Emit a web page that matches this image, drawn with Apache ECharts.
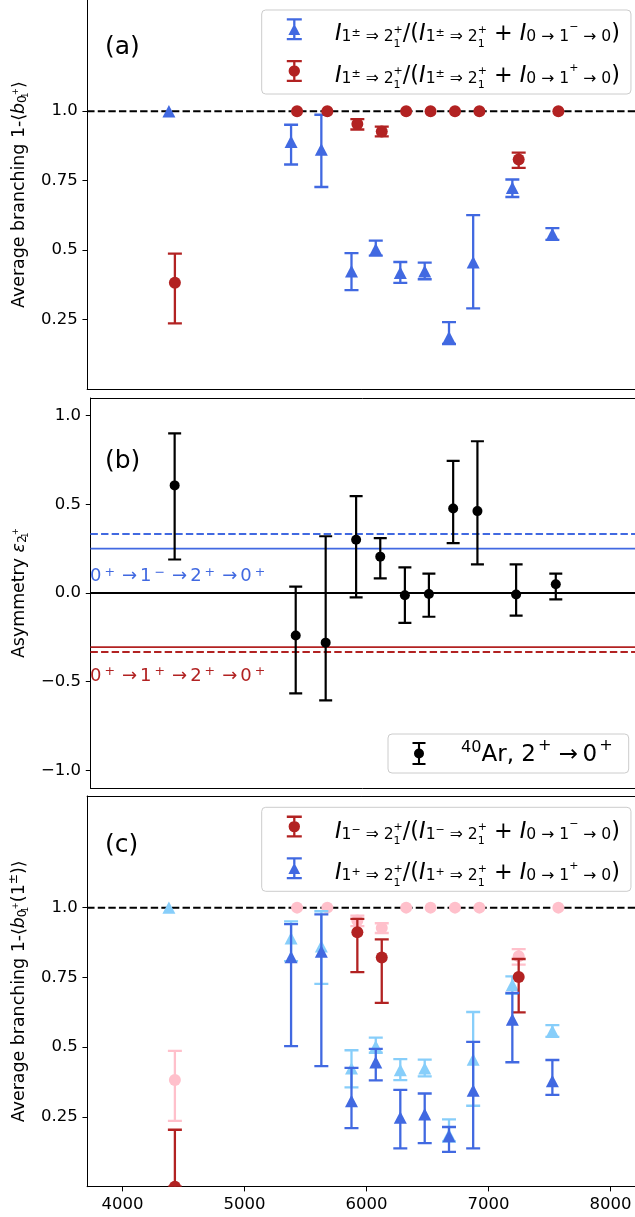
<!DOCTYPE html>
<html>
<head>
<meta charset="utf-8">
<script src="https://cdn.jsdelivr.net/npm/echarts@6/dist/echarts.min.js"></script>
<style>
  html, body { margin: 0; padding: 0; background: #fff; }
  #chart { width: 635px; height: 1217px; }
</style>
</head>
<body>
<div id="chart"></div>
<script>
// ---- data (energies in keV) ----
const energyTri = [4381, 5382, 5630, 5877, 6076, 6277, 6477, 6676, 6874, 7195, 7523];
const energyDot = [4430, 5431, 5679, 5925, 6125, 6325, 6525, 6725, 6925, 7247, 7572];
const energyAr  = [4405, 5403, 5650, 5901, 6100, 6303, 6501, 6701, 6901, 7220, 7547];

// (a) average branching, both parities
const aTriVal = [1.0, 0.89, 0.862, 0.424, 0.503, 0.418, 0.424, 0.186, 0.456, 0.724, 0.558];
const aTriLo  = [null, 0.808, 0.727, 0.356, 0.48, 0.382, 0.395, 0.162, 0.29, 0.691, 0.537];
const aTriHi  = [null, 0.951, 0.987, 0.489, 0.534, 0.457, 0.455, 0.241, 0.626, 0.754, 0.579];
const aDotVal = [0.382, 1.0, 1.0, 0.954, 0.927, 1.0, 1.0, 1.0, 1.0, 0.826, 1.0];
const aDotLo  = [0.236, null, null, 0.934, 0.909, null, null, null, null, 0.796, null];
const aDotHi  = [0.487, null, null, 0.971, 0.944, null, null, null, null, 0.851, null];

// (b) asymmetry of 2+ -> 0+
const arVal = [0.607, -0.24, -0.28, 0.30, 0.205, -0.013, -0.006, 0.477, 0.462, -0.008, 0.049];
const arLo  = [0.189, -0.566, -0.606, -0.025, 0.083, -0.168, -0.134, 0.281, 0.162, -0.128, -0.036];
const arHi  = [0.900, 0.036, 0.320, 0.547, 0.309, 0.145, 0.109, 0.745, 0.856, 0.162, 0.109];
const asymE1 = [0.25, 0.333];     // 0+ -> 1- -> 2+ -> 0+ (solid, dashed)
const asymM1 = [-0.305, -0.333];  // 0+ -> 1+ -> 2+ -> 0+ (solid, dashed)
const asymZero = 0;

// (c) parity separated
const cDotVal = [0.0, null, null, 0.912, 0.821, null, null, null, null, 0.751, null];
const cDotLo  = [0.0, null, null, 0.769, 0.659, null, null, null, null, 0.625, null];
const cDotHi  = [0.204, null, null, 0.96, 0.886, null, null, null, null, 0.816, null];
const cTriVal = [null, 0.823, 0.843, 0.307, 0.446, 0.248, 0.26, 0.182, 0.345, 0.599, 0.379];
const cTriLo  = [null, 0.504, 0.432, 0.21, 0.381, 0.137, 0.156, 0.125, 0.137, 0.446, 0.329];
const cTriHi  = [null, 0.941, 0.976, 0.426, 0.494, 0.347, 0.334, 0.214, 0.519, 0.694, 0.454];

const unitLine = 1.0;
const xMin = 3711, xMax = 8200;
const xTicks = [4000, 5000, 6000, 7000, 8000];
const branchTicks = [0.25, 0.5, 0.75, 1.0];
const asymTicks = [-1.0, -0.5, 0.0, 0.5, 1.0];

// ---- style ----
const FONT = 'DejaVu Sans';
const BLUE = '#4169e1', RED = '#b22222', PINK = '#ffc0cb', SKY = '#87cefa', BLACK = '#000000';

const chart = echarts.init(document.getElementById('chart'));

function errorSeries(name, axis, xs, vals, lows, highs, o) {
  const data = [];
  xs.forEach((x, i) => { if (vals[i] !== null) data.push([x, vals[i], i]); });
  return {
    name, type: 'custom', xAxisIndex: axis, yAxisIndex: axis, z: o.z, clip: true,
    itemStyle: { color: o.color }, data, animation: false,
    renderItem(params, api) {
      const i = api.value(2), x = api.value(0);
      const c = api.coord([x, api.value(1)]);
      const st = { stroke: o.color, lineWidth: o.lw };
      const kids = [];
      if (lows[i] !== null) {
        const lo = api.coord([x, lows[i]]), hi = api.coord([x, highs[i]]);
        kids.push({ type: 'line', shape: { x1: lo[0], y1: lo[1], x2: hi[0], y2: hi[1] }, style: st });
        kids.push({ type: 'line', shape: { x1: lo[0] - o.cap, y1: lo[1], x2: lo[0] + o.cap, y2: lo[1] }, style: st });
        kids.push({ type: 'line', shape: { x1: hi[0] - o.cap, y1: hi[1], x2: hi[0] + o.cap, y2: hi[1] }, style: st });
      }
      if (o.marker === 'tri') {
        const w = o.size, h = o.size * 0.96;
        kids.push({ type: 'polygon', shape: { points: [[c[0], c[1] - h], [c[0] - w, c[1] + h], [c[0] + w, c[1] + h]] }, style: { fill: o.color } });
      } else {
        kids.push({ type: 'circle', shape: { cx: c[0], cy: c[1], r: o.size }, style: { fill: o.color } });
      }
      const cs = params.coordSys;
      return {
        type: 'group', children: kids,
        clipPath: { type: 'rect', shape: { x: cs.x, y: cs.y, width: cs.width, height: cs.height } }
      };
    }
  };
}

function refLine(axis, y, color, dashed, width) {
  return {
    type: 'line', xAxisIndex: axis, yAxisIndex: axis, data: [[xMin, y], [xMax, y]],
    symbol: 'none', silent: true, z: 1, animation: false,
    lineStyle: { color, width, type: dashed ? [7.4, 3.2] : 'solid' }
  };
}

function bottomAxis(grid, labels) {
  return {
    type: 'value', gridIndex: grid, min: xMin, max: xMax, position: 'bottom',
    axisLine: { show: true, onZero: false, lineStyle: { color: BLACK, width: 1 } },
    axisTick: { show: labels, length: 4.7, customValues: xTicks, lineStyle: { color: BLACK, width: 1 } },
    axisLabel: { show: labels, customValues: xTicks, formatter: v => String(v), fontSize: 16.5, fontFamily: FONT, color: BLACK, margin: 10 },
    splitLine: { show: false }
  };
}
function topAxis(grid) {
  return {
    type: 'value', gridIndex: grid, min: xMin, max: xMax, position: 'top',
    axisLine: { show: true, onZero: false, lineStyle: { color: BLACK, width: 1 } },
    axisTick: { show: false }, axisLabel: { show: false }, splitLine: { show: false }
  };
}

const nameRich = {
  t: { fontSize: 17.4, fontFamily: FONT, lineHeight: 21, color: BLACK },
  it: { fontSize: 17.4, fontFamily: FONT, fontStyle: 'italic', lineHeight: 21, color: BLACK },
  s: { fontSize: 12.2, fontFamily: FONT, lineHeight: 15, padding: [7, 0, 0, 0], color: BLACK },
  sd: { fontSize: 8.7, fontFamily: FONT, lineHeight: 11, padding: [13, 0, 0, 0], width: 0.01, color: BLACK },
  sp: { fontSize: 8.7, fontFamily: FONT, lineHeight: 11, padding: [0, 0, 6, 0], color: BLACK },
  su: { fontSize: 12.2, fontFamily: FONT, lineHeight: 15, padding: [0, 0, 10, 0], color: BLACK }
};

function leftAxis(grid, min, max, ticks, fmt, name) {
  return {
    type: 'value', gridIndex: grid, min, max,
    axisLine: { show: true, onZero: false, lineStyle: { color: BLACK, width: 1 } },
    axisTick: { show: true, length: 4.7, customValues: ticks, lineStyle: { color: BLACK, width: 1 } },
    axisLabel: { customValues: ticks, formatter: fmt, fontSize: 16.5, fontFamily: FONT, color: BLACK, margin: 9.5 },
    splitLine: { show: false },
    name, nameLocation: 'middle', nameRotate: 90, nameGap: 52,
    nameTextStyle: { fontSize: 17.4, fontFamily: FONT, color: BLACK, rich: nameRich }
  };
}
const fmtBranch = v => (v === 1 ? '1.0' : String(v));
const fmtAsym = v => (v < 0 ? '\u2212' : '') + Math.abs(v).toFixed(1);

// legend labels (math set with rich text)
const legRich = {
  I: { fontSize: 22.3, fontFamily: FONT, fontStyle: 'italic', lineHeight: 28, color: BLACK },
  m: { fontSize: 22.3, fontFamily: FONT, lineHeight: 28, color: BLACK },
  s: { fontSize: 15.6, fontFamily: FONT, lineHeight: 19, padding: [5.6, 0, 0, 0], color: BLACK },
  su: { fontSize: 11, fontFamily: FONT, lineHeight: 14, padding: [0, 0, 3.4, 0], color: BLACK },
  sd: { fontSize: 11, fontFamily: FONT, lineHeight: 14, padding: [18.4, 0, 0, 0], width: 0.01, color: BLACK },
  sp: { fontSize: 11, fontFamily: FONT, lineHeight: 14, padding: [0, 0, 9.4, 0], color: BLACK },
  sm: { fontSize: 11, fontFamily: FONT, lineHeight: 14, padding: [0, 0, 15.4, 0], color: BLACK }
};
const arRich = {
  p0: { fontSize: 16.1, fontFamily: FONT, lineHeight: 19, padding: [0, 0, 10.6, 0], color: BLACK },
  m: { fontSize: 23, fontFamily: FONT, lineHeight: 28, padding: [3, 0, 0, 0], color: BLACK },
  sp: { fontSize: 16.1, fontFamily: FONT, lineHeight: 19, padding: [0, 0, 16, 2], color: BLACK }
};
const ratio = a => '{s|1}{su|' + a + '}{s| \u21d2 2}{sd|1}{sp|+}';
const legendLabels = {
  aTri: '{I|I}' + ratio('\u00b1') + '{m|/(}{I|I}' + ratio('\u00b1') + '{m| + }{I|I}{s|0 \u2192 1}{sm|\u2212}{s| \u2192 0}{m|)}',
  aDot: '{I|I}' + ratio('\u00b1') + '{m|/(}{I|I}' + ratio('\u00b1') + '{m| + }{I|I}{s|0 \u2192 1}{sm|+}{s| \u2192 0}{m|)}',
  cDot: '{I|I}' + ratio('\u2212') + '{m|/(}{I|I}' + ratio('\u2212') + '{m| + }{I|I}{s|0 \u2192 1}{sm|\u2212}{s| \u2192 0}{m|)}',
  cTri: '{I|I}' + ratio('+') + '{m|/(}{I|I}' + ratio('+') + '{m| + }{I|I}{s|0 \u2192 1}{sm|+}{s| \u2192 0}{m|)}',
  bAr: '{p0|40}{m|Ar, 2}{sp|+}{m| \u2192\u20090}{sp|+}'
};
// error-bar legend handles; the far corner point only sets the handle box (gap to the text, offset to the text centre)
const triIcon = 'path://M0,0H15V2.3H0Z M6.35,0H8.65V22H6.35Z M0,19.7H15V22H0Z M1.6,16.6L7.5,5.4L13.4,16.6Z M43.1,32.3L43.2,32.4Z';
const dotIcon = 'path://M0,0H15V2.3H0Z M6.35,0H8.65V22H6.35Z M0,19.7H15V22H0Z M1.8,11A5.7,5.7 0 1,1 13.2,11A5.7,5.7 0 1,1 1.8,11Z M43.1,32.3L43.2,32.4Z';
const arIcon = 'path://M0,0H13V2.1H0Z M5.45,0H7.55V23H5.45Z M0,20.9H13V23H0Z M1.5,11.5A5,5 0 1,1 11.5,11.5A5,5 0 1,1 1.5,11.5Z M43.4,22.9L43.5,23Z';

const legendBase = {
  orient: 'vertical', selectedMode: false, itemWidth: 43.2, itemHeight: 32.4, itemGap: 9.3,
  symbolKeepAspect: false,
  backgroundColor: 'rgba(255,255,255,0.8)', borderColor: '#cccccc', borderWidth: 1, borderRadius: 4,
  itemStyle: { borderWidth: 0 },
  formatter: n => legendLabels[n], textStyle: { fontFamily: FONT, fontSize: 22.3, color: BLACK, rich: legRich }
};

// annotation rich text in panel (b)
function annRich(col) {
  return {
    m: { fontSize: 18, fontFamily: FONT, lineHeight: 22, fill: col },
    a: { fontSize: 18, fontFamily: FONT, lineHeight: 22, fill: col, padding: [0, 3, 0, 7] },
    p: { fontSize: 12.6, fontFamily: FONT, lineHeight: 15, fill: col, padding: [0, 0, 9, 3] }
  };
}
const annText = sign => '{m|0}{p|+}{a|\u2192}{m|1}{p|' + sign + '}{a|\u2192}{m|2}{p|+}{a|\u2192}{m|0}{p|+}';

const titleStyle = { fontSize: 25, fontWeight: 'normal', fontFamily: FONT, color: BLACK };

chart.setOption({
  animation: false,
  backgroundColor: '#ffffff',
  title: [
    { text: '(a)', left: 105, top: 34.7, padding: 0, textStyle: titleStyle },
    { text: '(b)', left: 105, top: 448.7, padding: 0, textStyle: titleStyle },
    { text: '(c)', left: 105, top: 833, padding: 0, textStyle: titleStyle }
  ],
  grid: [
    { left: 82.7, top: -1.2, width: 553.6, height: 390.2 },
    { left: 82.7, top: 398, width: 553.6, height: 390 },
    { left: 82.7, top: 796, width: 553.6, height: 390.7 }
  ],
  xAxis: [bottomAxis(0, false), bottomAxis(1, false), bottomAxis(2, true), topAxis(1), topAxis(2)],
  yAxis: [
    leftAxis(0, 0, 1.4, branchTicks, fmtBranch, '{t|Average branching 1-\u27e8}{it|b}{s|0}{sd|1}{sp|+}{t|\u27e9}'),
    leftAxis(1, -1.1, 1.1, asymTicks, fmtAsym, '{t|Asymmetry }{it|\u03b5}{s|2}{sd|1}{sp|+}'),
    leftAxis(2, 0, 1.4, branchTicks, fmtBranch, '{t|Average branching 1-\u27e8}{it|b}{s|0}{sd|1}{sp|+}{t|(1}{su|\u00b1}{t|)\u27e9}')
  ],
  legend: [
    Object.assign({}, legendBase, {
      data: [{ name: 'aTri', icon: triIcon }, { name: 'aDot', icon: dotIcon }],
      left: 261.7, top: 10, padding: [8.3, 11, 1.6, 25.1]
    }),
    Object.assign({}, legendBase, {
      data: [{ name: 'cDot', icon: dotIcon }, { name: 'cTri', icon: triIcon }],
      left: 261.7, top: 807.3, padding: [8.3, 11, 1.6, 25.1]
    }),
    Object.assign({}, legendBase, {
      data: [{ name: 'bAr', icon: arIcon }], itemWidth: 43.5, itemHeight: 23,
      left: 388, top: 734, padding: [3.5, 16, 3.5, 24.5],
      textStyle: { fontFamily: FONT, fontSize: 23, color: BLACK, rich: arRich }
    })
  ],
  graphic: [
    { type: 'text', x: 90, y: 576.8, silent: true, style: { text: annText('\u2212'), rich: annRich(BLUE), verticalAlign: 'middle', fill: BLUE } },
    { type: 'text', x: 90, y: 676.3, silent: true, style: { text: annText('+'), rich: annRich(RED), verticalAlign: 'middle', fill: RED } }
  ],
  series: [
    refLine(0, unitLine, BLACK, true, 2),
    errorSeries('aTri', 0, energyTri, aTriVal, aTriLo, aTriHi, { color: BLUE, marker: 'tri', size: 6.5, lw: 2.3, cap: 7, z: 3 }),
    errorSeries('aDot', 0, energyDot, aDotVal, aDotLo, aDotHi, { color: RED, marker: 'dot', size: 6, lw: 2.3, cap: 7, z: 4 }),

    refLine(1, asymZero, BLACK, false, 2),
    refLine(1, asymE1[0], BLUE, false, 1.7),
    refLine(1, asymE1[1], BLUE, true, 2),
    refLine(1, asymM1[0], RED, false, 1.7),
    refLine(1, asymM1[1], RED, true, 2),
    errorSeries('bAr', 1, energyAr, arVal, arLo, arHi, { color: BLACK, marker: 'dot', size: 5, lw: 2.2, cap: 6.5, z: 3 }),

    refLine(2, unitLine, BLACK, true, 2),
    errorSeries('cLightDot', 2, energyDot, aDotVal, aDotLo, aDotHi, { color: PINK, marker: 'dot', size: 6, lw: 2.3, cap: 7, z: 2 }),
    errorSeries('cLightTri', 2, energyTri, aTriVal, aTriLo, aTriHi, { color: SKY, marker: 'tri', size: 6.5, lw: 2.3, cap: 7, z: 2 }),
    errorSeries('cDot', 2, energyDot, cDotVal, cDotLo, cDotHi, { color: RED, marker: 'dot', size: 6, lw: 2.3, cap: 7, z: 3 }),
    errorSeries('cTri', 2, energyTri, cTriVal, cTriLo, cTriHi, { color: BLUE, marker: 'tri', size: 6.5, lw: 2.3, cap: 7, z: 4 })
  ]
});
</script>
</body>
</html>
